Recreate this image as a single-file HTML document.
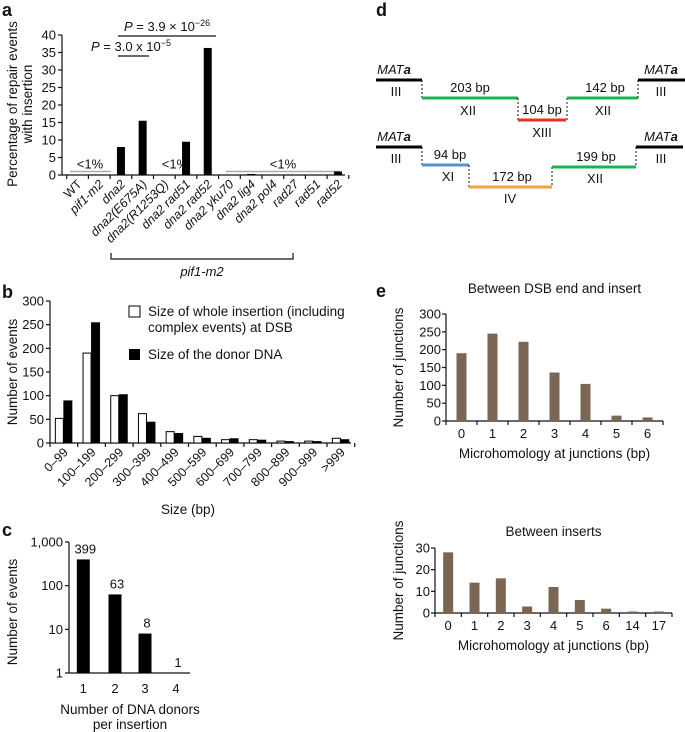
<!DOCTYPE html>
<html><head><meta charset="utf-8"><style>
html,body{margin:0;padding:0;background:#fff}
svg{display:block;font-family:"Liberation Sans",Arial,sans-serif}
text{fill:#111}
</style></head><body>
<svg id="fig" width="685" height="732" viewBox="0 0 685 732" xmlns="http://www.w3.org/2000/svg">
<g id="pa"></g>
<g id="pb"></g>
<g id="pc"></g>
<g id="pd"></g>
<g id="pe"></g>
</svg>
<script>
// Panel a data
const aCats=["WT","pif1-m2","dna2","dna2(E675A)","dna2(R1253Q)","dna2 rad51","dna2 rad52","dna2 yku70","dna2 lig4","dna2 pol4","rad27","rad51","rad52"];
const aVals=[0,0,8,15.5,0,9.5,36.3,0,0.3,0,0,0,1];
const aTicks=[0,5,10,15,20,25,30,35,40];
// Panel b data
const bCats=["0–99","100–199","200–299","300–399","400–499","500–599","600–699","700–799","800–899","900–999",">999"];
const bWhole=[52,190,100,62,24,14,7,7,4,4,10];
const bDonor=[90,255,103,45,21,11,10,7,4,4,8];
const bTicks=[0,50,100,150,200,250,300];
// Panel c data
const cCats=["1","2","3","4"];
const cVals=[399,63,8,1];
const cTicks=[1,10,100,1000];
const cTickLabels=["1","10","100","1,000"];
// Panel e data
const e1Cats=["0","1","2","3","4","5","6"];
const e1Vals=[190,245,222,136,104,15,10];
const e1Ticks=[0,50,100,150,200,250,300];
const e2Cats=["0","1","2","3","4","5","6","14","17"];
const e2Vals=[28,14,16,3,12,6,2,0.7,0.7];
const e2Ticks=[0,10,20,30];

const NS="http://www.w3.org/2000/svg";
function mk(parent,tag,attrs,txt){const e=document.createElementNS(NS,tag);for(const k in attrs)e.setAttribute(k,attrs[k]);if(txt!==undefined)e.textContent=txt;parent.appendChild(e);return e;}
function line(p,x1,y1,x2,y2,st,w,dash){return mk(p,"line",{x1,y1,x2,y2,stroke:st||"#111","stroke-width":w||1.2,"stroke-dasharray":dash||"none"});}

// ---------- Panel a ----------
(function(){
const g=document.getElementById("pa");
const x0=62,x1=345,y0=175,yTop=35,max=40;
const ys=v=>y0-(v/max)*(y0-yTop);
const step=21.7, first=66.7;
const xc=i=>first+step*(i+0.5);
let t=mk(g,"text",{x:2,y:16,"font-size":18,"font-weight":"bold"},"a");

line(g,x0,yTop,x0,y0);line(g,x0,y0,x1,y0);
aTicks.forEach(v=>{line(g,x0-4,ys(v),x0,ys(v));const l=mk(g,"text",{x:x0-6,y:ys(v)+4.5,"font-size":13,"text-anchor":"end"},v);
});
for(let i=0;i<=aCats.length;i++){line(g,first+step*i,y0,first+step*i,y0+4);}
// gray <1% lines
line(g,70,ys(1),111,ys(1),"#aaa",1.5);line(g,226,ys(1),340,ys(1),"#aaa",1.5);
mk(g,"text",{x:90,y:ys(1)-3,"font-size":13,"text-anchor":"middle"},"<1%");
mk(g,"text",{x:175,y:ys(1)-3,"font-size":13,"text-anchor":"middle"},"<1%");
mk(g,"text",{x:283,y:ys(1)-3,"font-size":13,"text-anchor":"middle"},"<1%");
aVals.forEach((v,i)=>{const r=mk(g,"rect",{x:xc(i)-4,y:ys(v),width:8,height:y0-ys(v),fill:"#000"});
});
aCats.forEach((c,i)=>{const ital=(c!=="WT");const l=mk(g,"text",{x:xc(i)+5,y:y0+10,"font-size":12.5,"text-anchor":"end",transform:`rotate(-45 ${xc(i)+5} ${y0+10})`,"font-style":ital?"italic":"normal"},c);
});
// P value annotations
line(g,118,36,216,36);
const p1=mk(g,"text",{x:124,y:31,"font-size":13});p1.innerHTML='<tspan font-style="italic">P</tspan> = 3.9 × 10<tspan dy="-5" font-size="9">−26</tspan>';
line(g,118,56,149,56);
const p2=mk(g,"text",{x:91,y:51,"font-size":13});p2.innerHTML='<tspan font-style="italic">P</tspan> = 3.0 x 10<tspan dy="-5" font-size="9">−5</tspan>';
// bracket
const br=mk(g,"path",{d:"M111 253 V259 H293 V253",fill:"none",stroke:"#111","stroke-width":1.2});

mk(g,"text",{x:202,y:276,"font-size":13,"font-style":"italic","text-anchor":"middle"},"pif1-m2");
const yl=mk(g,"text",{x:0,y:0,"font-size":13.5,"text-anchor":"middle",transform:"translate(17,104) rotate(-90)"});
yl.innerHTML='<tspan x="0" dy="0">Percentage of repair events</tspan><tspan x="0" dy="15">with insertion</tspan>';

})();

// ---------- Panel b ----------
(function(){
const g=document.getElementById("pb");
const x0=50,x1=351,y0=443,yTop=301,max=300;
const ys=v=>y0-(v/max)*(y0-yTop);
const step=27.7;
mk(g,"text",{x:2,y:298,"font-size":18,"font-weight":"bold"},"b");
line(g,x0,yTop,x0,y0);line(g,x0,y0,x1,y0);
bTicks.forEach(v=>{line(g,x0-4,ys(v),x0,ys(v));const l=mk(g,"text",{x:x0-6,y:ys(v)+4.5,"font-size":13,"text-anchor":"end"},v);
});
for(let i=0;i<=bCats.length;i++)line(g,x0+step*i,y0,x0+step*i,y0+4);
bCats.forEach((c,i)=>{const cx=x0+step*(i+0.5);
const w=mk(g,"rect",{x:cx-8.5,y:ys(bWhole[i]),width:8,height:y0-ys(bWhole[i]),fill:"#fff",stroke:"#000","stroke-width":1});

const d=mk(g,"rect",{x:cx-0.5,y:ys(bDonor[i]),width:9,height:y0-ys(bDonor[i]),fill:"#000"});

const l=mk(g,"text",{x:cx+5,y:y0+10,"font-size":12.5,"text-anchor":"end",transform:`rotate(-45 ${cx+5} ${y0+10})`},c);
});
const lg=mk(g,"g",{});
mk(lg,"rect",{x:129,y:306,width:11,height:11,fill:"#fff",stroke:"#000","stroke-width":1});
mk(lg,"text",{x:148,y:316,"font-size":13.5},"Size of whole insertion (including");
mk(lg,"text",{x:148,y:332,"font-size":13.5},"complex events) at DSB");
mk(lg,"rect",{x:129,y:349,width:11,height:11,fill:"#000"});
mk(lg,"text",{x:148,y:359,"font-size":13.5},"Size of the donor DNA");
mk(g,"text",{x:188,y:514,"font-size":13.5,"text-anchor":"middle"},"Size (bp)");
const yl=mk(g,"text",{x:0,y:0,"font-size":13.5,"text-anchor":"middle",transform:"translate(17,372) rotate(-90)"},"Number of events");

})();

// ---------- Panel c ----------
(function(){
const g=document.getElementById("pc");
const x0=69,x1=190,y0=673,yTop=542;
const ys=v=>y0-(Math.log10(v)/3)*(y0-yTop);
const xs=[83.3,115,145,176];
mk(g,"text",{x:2,y:536,"font-size":18,"font-weight":"bold"},"c");
line(g,x0,yTop,x0,y0);line(g,x0,y0,x1,y0);
cTicks.forEach((v,i)=>{line(g,x0-4,ys(v),x0,ys(v));const l=mk(g,"text",{x:x0-6,y:ys(v)+4.5,"font-size":13,"text-anchor":"end"},cTickLabels[i]);
});
cVals.forEach((v,i)=>{const cx=xs[i];
const r=mk(g,"rect",{x:cx-6.5,y:ys(v),width:13,height:y0-ys(v),fill:"#000"});

mk(g,"text",{x:cx+2,y:ys(v)-6,"font-size":13,"text-anchor":"middle"},v);
mk(g,"text",{x:cx,y:693,"font-size":13,"text-anchor":"middle"},cCats[i]);});
mk(g,"text",{x:130,y:714,"font-size":13.5,"text-anchor":"middle"},"Number of DNA donors");
mk(g,"text",{x:130,y:729,"font-size":13.5,"text-anchor":"middle"},"per insertion");
const yl=mk(g,"text",{x:0,y:0,"font-size":13.5,"text-anchor":"middle",transform:"translate(17,612) rotate(-90)"},"Number of events");

})();

// ---------- Panel d ----------
(function(){
const g=document.getElementById("pd");
mk(g,"text",{x:376,y:16,"font-size":18,"font-weight":"bold"},"d");
function seg(x1,x2,y,c,name){const l=line(g,x1,y,x2,y,c,3);}
function dash(x,y1,y2){line(g,x,y1,x,y2,"#111",1,"2,2");}
function txt(x,y,s,it){const t=mk(g,"text",{x,y,"font-size":13,"text-anchor":"middle"});t.innerHTML=s;}
const mat='<tspan font-style="italic">MAT</tspan><tspan font-style="italic" font-weight="bold">a</tspan>';
// row1
seg(376,422,80,"#000","mat-left-1");txt(394,74,mat);txt(396,96,"III");
dash(422,80,98);seg(422,518,98,"#1cb34f","xii-203");txt(470,92,"203 bp");txt(468,115,"XII");
dash(518,98,120);seg(518,566,120,"#e8321e","xiii-104");txt(542,114,"104 bp");txt(542,137,"XIII");
dash(567,98,120);seg(567,638,98,"#1cb34f","xii-142");txt(605,92,"142 bp");txt(603,115,"XII");
dash(638,80,98);seg(638,685,80,"#000","mat-right-1");txt(661,74,mat);txt(661,96,"III");
// row2
seg(376,422,147,"#000","mat-left-2");txt(394,141,mat);txt(396,163,"III");
dash(422,147,165);seg(422,469,165,"#5b8fd0","xi-94");txt(450,159,"94 bp");txt(448,181,"XI");
dash(469,165,187);seg(469,552,187,"#f5a03a","iv-172");txt(512,181,"172 bp");txt(510,203,"IV");
dash(552,167,187);seg(552,636,167,"#1cb34f","xii-199");txt(596,161,"199 bp");txt(595,183,"XII");
dash(636,147,167);seg(636,683,147,"#000","mat-right-2");txt(661,141,mat);txt(661,163,"III");
})();

// ---------- Panel e ----------
function ebar(g,cats,vals,ticks,x0,x1,y0,yTop,max,title,titleY,prefix){
const ys=v=>y0-(v/max)*(y0-yTop);
const step=(x1-x0)/cats.length;
line(g,x0,yTop,x0,y0);line(g,x0,y0,x1,y0);
ticks.forEach(v=>{line(g,x0-4,ys(v),x0,ys(v));const l=mk(g,"text",{x:x0-5,y:ys(v)+4.5,"font-size":13,"text-anchor":"end"},v);
});
for(let i=0;i<=cats.length;i++)line(g,x0+step*i,y0,x0+step*i,y0+4);
vals.forEach((v,i)=>{const cx=x0+step*(i+0.5);
const r=mk(g,"rect",{x:cx-5,y:ys(v),width:10,height:y0-ys(v),fill:"#7b6654"});

mk(g,"text",{x:cx,y:y0+17,"font-size":13,"text-anchor":"middle"},cats[i]);});
mk(g,"text",{x:(x0+x1)/2,y:y0+37,"font-size":13.5,"text-anchor":"middle"},"Microhomology at junctions (bp)");
const tt=mk(g,"text",{x:(x0+x1)/2,y:titleY,"font-size":13.5,"text-anchor":"middle"},title);

const yc=(yTop+y0)/2;
const yl=mk(g,"text",{x:0,y:0,"font-size":13.5,"text-anchor":"middle",transform:`translate(403,${yc}) rotate(-90)`},"Number of junctions");

}
(function(){
const g=document.getElementById("pe");
mk(g,"text",{x:376,y:297,"font-size":18,"font-weight":"bold"},"e");
ebar(g,e1Cats,e1Vals,e1Ticks,446,663,421,314,300,"Between DSB end and insert",293,"dsb-insert");
ebar(g,e2Cats,e2Vals,e2Ticks,435,672,613,548,30,"Between inserts",536,"between-inserts");
})();
</script>
</body></html>
